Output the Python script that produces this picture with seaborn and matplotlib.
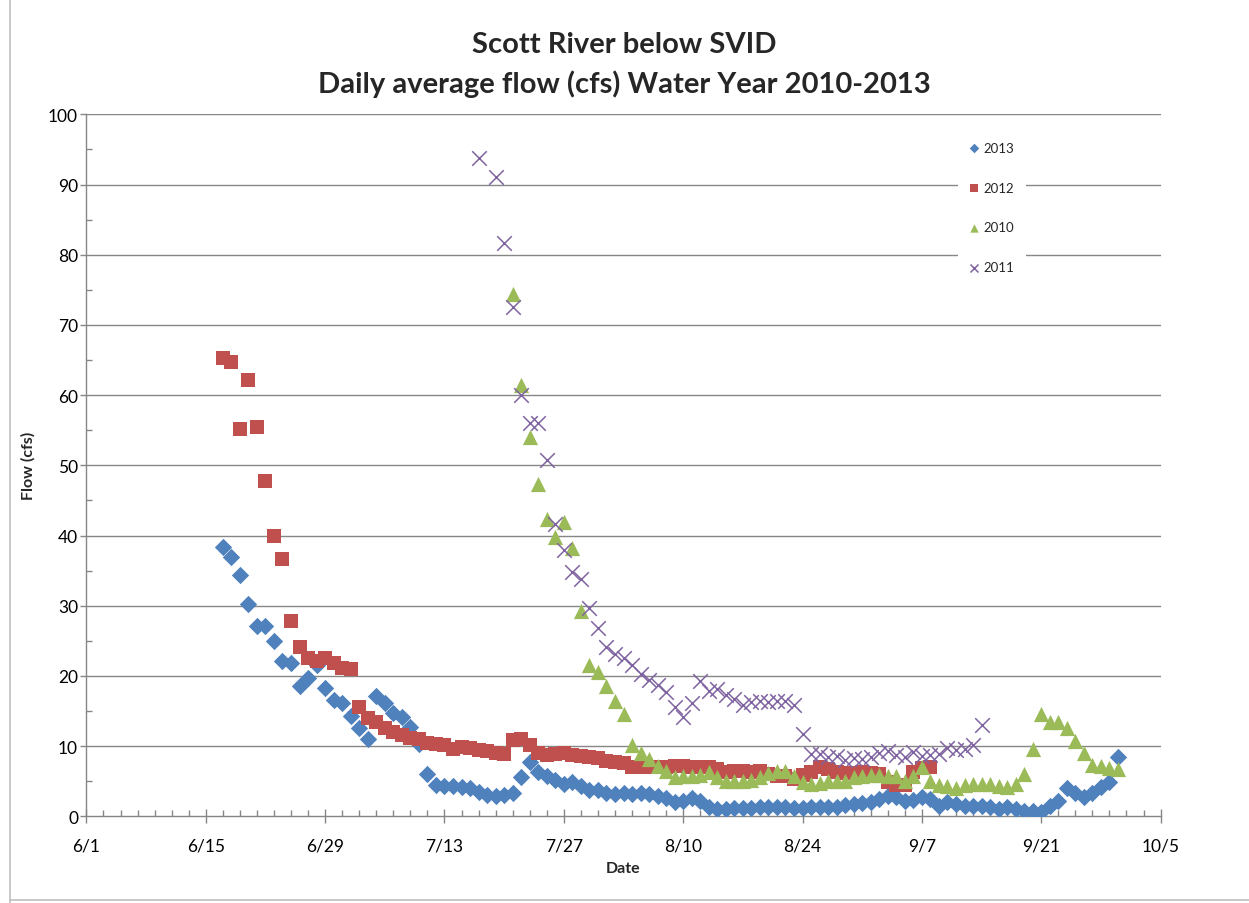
import numpy as np
import pandas as pd
import matplotlib
matplotlib.use("Agg")
import matplotlib.pyplot as plt
import matplotlib.dates as mdates
from matplotlib.ticker import FixedLocator, FuncFormatter
from matplotlib.lines import Line2D
import seaborn as sns

# Daily average flow (cfs), Scott River below SVID.
# Each water year is placed on a common Jun-Oct calendar axis.
start_2013 = "2013-06-17"
flow_2013 = [38.4, 37.0, 34.4, 30.2, 27.1, 27.1, 25.0, 22.2, 21.9, 18.6,
             19.7, 21.5, 18.3, 16.6, 16.2, 14.3, 12.6, 11.0, 17.1, 16.1,
             14.7, 14.2, 12.7, 10.3, 6.0, 4.5, 4.3, 4.3, 4.2, 4.1,
             3.5, 3.0, 2.9, 3.1, 3.4, 5.6, 7.7, 6.3, 5.8, 5.2,
             4.6, 4.9, 4.3, 3.8, 3.7, 3.4, 3.2, 3.4, 3.2, 3.4,
             3.2, 2.9, 2.6, 2.0, 2.2, 2.6, 2.2, 1.4, 1.1, 1.1,
             1.2, 1.2, 1.2, 1.3, 1.4, 1.3, 1.3, 1.2, 1.2, 1.3,
             1.3, 1.4, 1.4, 1.6, 1.8, 1.9, 2.1, 2.5, 2.9, 2.7,
             2.2, 2.4, 2.7, 2.5, 1.5, 2.0, 1.8, 1.5, 1.5, 1.5,
             1.3, 1.0, 1.3, 1.0, 0.7, 0.7, 0.6, 1.5, 2.2, 4.0,
             3.4, 2.7, 3.4, 4.2, 4.9, 8.4]

start_2012 = "2013-06-17"
flow_2012 = [65.3, 64.7, 55.2, 62.2, 55.5, 47.8, 39.9, 36.6, 27.9, 24.1,
             22.5, 22.1, 22.5, 21.8, 21.2, 21.0, 15.6, 14.0, 13.4, 12.6,
             12.0, 11.6, 11.2, 11.0, 10.4, 10.3, 10.1, 9.6, 9.9, 9.7,
             9.5, 9.3, 9.0, 8.9, 10.9, 11.0, 10.2, 9.0, 8.7, 8.9,
             9.0, 8.7, 8.6, 8.4, 8.3, 7.9, 7.8, 7.6, 7.0, 7.0,
             7.0, 7.0, 7.1, 7.2, 7.2, 7.1, 7.1, 7.1, 6.8, 6.3,
             6.5, 6.5, 6.3, 6.4, 6.0, 5.8, 5.8, 5.3, 5.9, 6.3,
             7.1, 6.8, 6.3, 6.2, 6.2, 6.3, 6.2, 6.0, 4.9, 4.5,
             4.5, 6.3, 6.9, 7.0]

start_2010 = "2013-07-21"
flow_2010 = [74.4, 61.5, 54.1, 47.4, 42.4, 39.8, 41.9, 38.2, 29.3, 21.6,
             20.6, 18.6, 16.5, 14.6, 10.2, 9.1, 8.2, 7.2, 6.5, 5.6,
             5.7, 5.8, 5.9, 6.3, 5.6, 5.0, 5.0, 5.1, 5.2, 5.6,
             6.2, 6.5, 6.5, 5.8, 4.9, 4.6, 4.8, 5.1, 5.1, 5.1,
             5.6, 5.8, 5.9, 5.9, 5.8, 5.8, 5.1, 5.7, 7.1, 5.1,
             4.5, 4.3, 4.1, 4.5, 4.6, 4.6, 4.6, 4.4, 4.2, 4.6,
             6.0, 9.6, 14.6, 13.5, 13.5, 12.6, 10.7, 9.1, 7.3, 7.2,
             6.9, 6.7]

start_2011 = "2013-07-17"
flow_2011 = [93.8, np.nan, 91.1, 81.6, 72.5, 60.0, 56.0, 56.1, 50.7, 41.6,
             37.9, 34.8, 33.8, 29.7, 26.8, 24.1, 23.2, 22.6, 21.5, 20.3,
             19.4, 18.7, 17.7, 15.6, 14.1, 16.2, 19.3, 17.8, 18.2, 17.3,
             16.7, 15.9, 16.3, 16.5, 16.3, 16.4, 16.5, 15.9, 11.8, 8.9,
             8.9, 8.5, 8.6, 8.0, 8.3, 8.2, 8.5, 9.0, 9.3, 8.8,
             8.4, 9.2, 8.6, 8.8, 8.9, 9.8, 9.4, 9.6, 10.2, 13.0]

years = ["2013", "2012", "2010", "2011"]
starts = [start_2013, start_2012, start_2010, start_2011]
flows = [flow_2013, flow_2012, flow_2010, flow_2011]
colors = ["#4F81BD", "#C0504D", "#9BBB59", "#8064A2"]
markers = ["D", "s", "^", "x"]
sizes = [78, 110, 120, 110]

x_tick_dates = pd.date_range("2013-06-01", "2013-10-05", freq="14D")
x_minor_dates = pd.date_range("2013-06-01", "2013-10-05", freq="2D")
y_ticks = list(range(0, 101, 10))

sns.set_style("white")
plt.rcParams["font.family"] = ["Lato", "DejaVu Sans"]

W, H = 1249, 904
fig = plt.figure(figsize=(W / 100, H / 100), dpi=100)
ax_left, ax_right, ax_top, ax_bottom = 86.4, 1160.6, 115.3, 817.4
ax = fig.add_axes([ax_left / W, (H - ax_bottom) / H,
                   (ax_right - ax_left) / W, (ax_bottom - ax_top) / H])

grid_color = "#868686"
for yv in y_ticks[1:]:
    ax.axhline(yv, color=grid_color, lw=1.0, zorder=0)

for yr, st, fl, col, mk, sz in zip(years, starts, flows, colors, markers, sizes):
    df = pd.DataFrame({"date": pd.date_range(st, periods=len(fl), freq="D"),
                       "flow": fl}).dropna()
    if mk == "x":
        sns.scatterplot(data=df, x="date", y="flow", marker=mk, color=col, s=sz,
                        linewidth=1.1, label=yr, ax=ax, zorder=3)
    else:
        sns.scatterplot(data=df, x="date", y="flow", marker=mk, color=col, s=sz,
                        linewidth=0, label=yr, ax=ax, zorder=3)

ax.set_xlim(mdates.date2num(x_tick_dates[0]), mdates.date2num(x_tick_dates[-1]))
ax.set_ylim(0, 100)

ax.xaxis.set_major_locator(FixedLocator(mdates.date2num(x_tick_dates)))
ax.xaxis.set_minor_locator(FixedLocator(mdates.date2num(x_minor_dates)))
ax.xaxis.set_major_formatter(FuncFormatter(
    lambda v, p: f"{mdates.num2date(v).month}/{mdates.num2date(v).day}"))
ax.yaxis.set_major_locator(FixedLocator(y_ticks))
ax.yaxis.set_minor_locator(FixedLocator(np.arange(5, 100, 10)))

for side in ["top", "right"]:
    ax.spines[side].set_visible(False)
for side in ["left", "bottom"]:
    ax.spines[side].set_color(grid_color)
    ax.spines[side].set_linewidth(1.0)

ax.tick_params(axis="both", which="major", length=6, width=1.0, color=grid_color,
               labelsize=12.5, labelcolor="black", direction="out")
ax.tick_params(axis="x", which="major", direction="inout", length=10, pad=10)
ax.tick_params(axis="both", which="minor", length=4, width=1.0, color=grid_color,
               direction="in")
ax.tick_params(axis="y", which="major", length=4, pad=2)
ax.tick_params(bottom=True, left=True, which="both")

ax.set_xlabel("Date", fontsize=11.5, fontweight="bold")
ax.xaxis.set_label_coords(0.5, -(869 - ax_bottom) / (ax_bottom - ax_top))
ax.set_ylabel("Flow (cfs)", fontsize=11.5, fontweight="bold")
ax.yaxis.set_label_coords(-(ax_left - 28) / (ax_right - ax_left), 0.5)
ax.xaxis.label.set_va("center")
ax.yaxis.label.set_va("center")

fig.text(0.5, 1 - 45 / H, "Scott River below SVID", ha="center", va="center",
         fontsize=21, fontweight="bold")
fig.text(0.5, 1 - 84 / H, "Daily average flow (cfs) Water Year 2010-2013",
         ha="center", va="center", fontsize=21, fontweight="bold")

leg = ax.legend(loc="upper left", bbox_to_anchor=(958 / W, 1 - 131 / H),
                bbox_transform=fig.transFigure, frameon=True, fontsize=9.5,
                markerscale=0.55, labelspacing=2.1, handlelength=0.7,
                handletextpad=0.35, borderpad=0.9, borderaxespad=0)
leg.get_frame().set_facecolor("white")
leg.get_frame().set_edgecolor("none")
leg.get_frame().set_alpha(1)

# light border around the chart area
fig.add_artist(Line2D([10 / W, 10 / W], [0, 1], transform=fig.transFigure,
                      color="#BFBFBF", lw=1.2))
fig.add_artist(Line2D([10 / W, 1], [3 / H, 3 / H], transform=fig.transFigure,
                      color="#BFBFBF", lw=1.2))

fig.savefig("out.png", dpi=100, facecolor="white")
